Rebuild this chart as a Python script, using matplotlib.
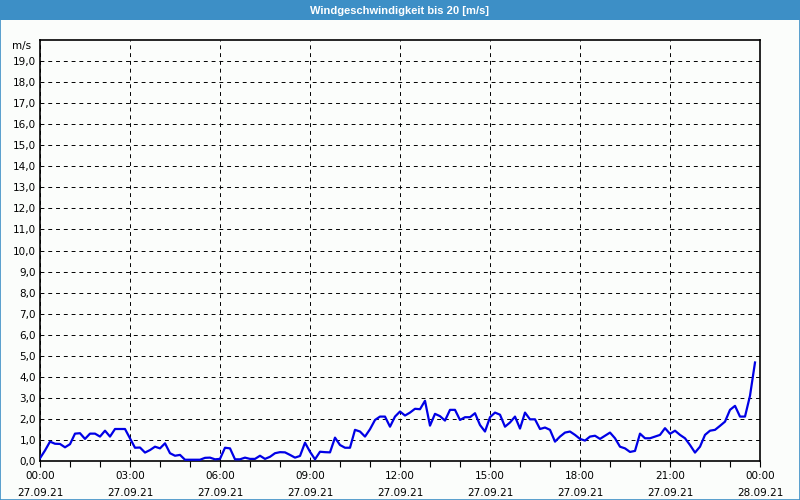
import matplotlib
matplotlib.use("Agg")
import matplotlib.pyplot as plt
from matplotlib.patches import Rectangle
import numpy as np

# --- data ---------------------------------------------------------------
title = "Windgeschwindigkeit bis 20 [m/s]"
unit_label = "m/s"
# one reading every 10 minutes, starting at 00:00
step_minutes = 10
wind_speed = [
    0.13, 0.50, 0.92, 0.82, 0.81, 0.65, 0.80, 1.30, 1.32, 1.05, 1.30, 1.30,
    1.16, 1.44, 1.16, 1.52, 1.52, 1.52, 1.08, 0.63, 0.64, 0.40, 0.52, 0.68,
    0.60, 0.84, 0.37, 0.25, 0.29, 0.06, 0.06, 0.06, 0.06, 0.15, 0.16, 0.08,
    0.10, 0.63, 0.60, 0.08, 0.08, 0.16, 0.10, 0.10, 0.25, 0.10, 0.20, 0.37,
    0.42, 0.41, 0.29, 0.16, 0.24, 0.87, 0.44, 0.08, 0.44, 0.42, 0.41, 1.11,
    0.76, 0.63, 0.63, 1.48, 1.40, 1.16, 1.51, 1.95, 2.11, 2.11, 1.63, 2.11,
    2.35, 2.16, 2.30, 2.48, 2.46, 2.86, 1.68, 2.24, 2.13, 1.92, 2.43, 2.43,
    1.95, 2.08, 2.08, 2.27, 1.71, 1.40, 2.08, 2.30, 2.20, 1.63, 1.83, 2.11,
    1.54, 2.30, 1.98, 1.98, 1.52, 1.59, 1.48, 0.92, 1.16, 1.35, 1.40, 1.24,
    1.05, 0.97, 1.16, 1.20, 1.05, 1.20, 1.35, 1.08, 0.68, 0.60, 0.43, 0.48,
    1.30, 1.08, 1.08, 1.16, 1.24, 1.56, 1.29, 1.44, 1.24, 1.08, 0.76, 0.40,
    0.68, 1.24, 1.44, 1.48, 1.67, 1.87, 2.43, 2.62, 2.11, 2.11, 3.10, 4.68,
]
x_tick_hours = [0, 3, 6, 9, 12, 15, 18, 21, 24]
x_tick_labels = ["00:00\n27.09.21", "03:00\n27.09.21", "06:00\n27.09.21",
                 "09:00\n27.09.21", "12:00\n27.09.21", "15:00\n27.09.21",
                 "18:00\n27.09.21", "21:00\n27.09.21", "00:00\n28.09.21"]
y_ticks = list(range(0, 20))
y_tick_labels = [f"{v},0" for v in y_ticks]

hours = np.arange(len(wind_speed)) * step_minutes / 60.0

# --- figure -------------------------------------------------------------
bg = "#fbfdfb"
blue_bar = "#3d8fc6"
fig = plt.figure(figsize=(8, 5), dpi=100, facecolor=bg)

# title bar
fig.patches.append(Rectangle((0, 0.96), 1, 0.04, transform=fig.transFigure,
                             facecolor=blue_bar, edgecolor="none", zorder=0))
fig.patches.append(Rectangle((0.0006, 0.001), 0.9988, 0.998, transform=fig.transFigure,
                             facecolor="none", edgecolor=blue_bar, linewidth=1.2, zorder=5))

fig.text(0.5, 0.979, title, ha="center", va="center", color="white",
         fontsize=8, fontweight="bold", family="Liberation Sans")

ax = fig.add_axes([0.05, 0.078, 0.90, 0.842])
ax.set_facecolor(bg)
ax.plot(hours, wind_speed, color="#0000e6", linewidth=1.6, zorder=3)

ax.set_xlim(0, 24)
ax.set_ylim(0, 20)
ax.set_xticks(x_tick_hours)
ax.set_xticklabels(x_tick_labels, fontsize=7.5, linespacing=1.9)
ax.set_xticks(range(0, 25), minor=True)
ax.set_yticks(y_ticks)
ax.set_yticklabels(y_tick_labels, fontsize=7.5)

ax.tick_params(axis="x", which="both", direction="out", length=4, width=0.8,
               pad=3, colors="black")
ax.tick_params(axis="y", which="both", length=0, pad=3)

ax.grid(True, which="major", color="black", linestyle=(0, (4, 4)), linewidth=0.7)
ax.grid(False, which="minor")
for s in ax.spines.values():
    s.set_linewidth(1.2)
    s.set_color("black")

ax.text(-0.012, 1.0 - 0.3 / 20, unit_label, transform=ax.transAxes,
        ha="right", va="center", fontsize=7.5)

fig.savefig("out.png", dpi=100, facecolor=bg)
